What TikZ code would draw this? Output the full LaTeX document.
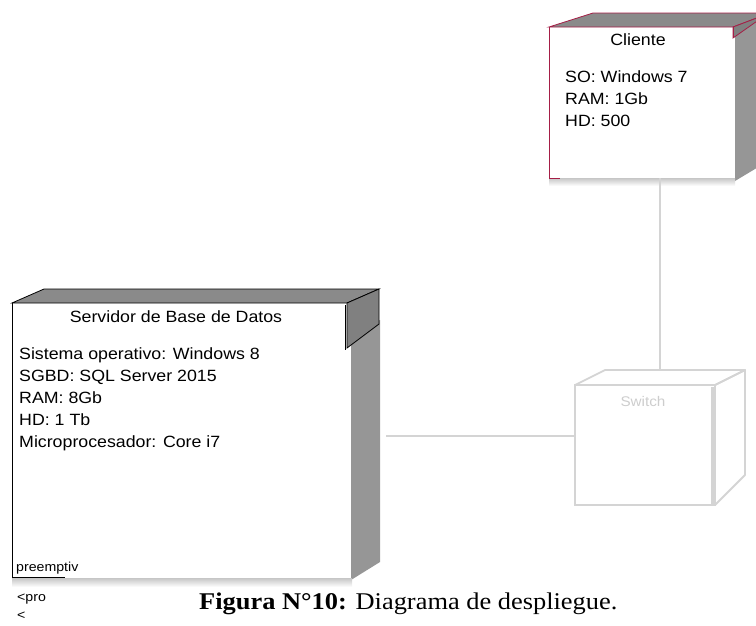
\documentclass[tikz,border=0pt]{standalone}
\usepackage{fontspec}
\setmainfont[FakeStretch=1.09]{Liberation Sans}
\newfontfamily\capfont[FakeStretch=1.10]{Liberation Serif}
\definecolor{crim}{RGB}{165,30,70}
\definecolor{topgray}{RGB}{138,138,138}
\definecolor{sidegray}{RGB}{128,128,128}
\definecolor{colgray}{RGB}{150,150,150}
\definecolor{faint}{RGB}{212,212,212}
\definecolor{fainttxt}{RGB}{205,205,205}
\begin{document}
\begin{tikzpicture}[x=1pt,y=-1pt,
  face/.style={inner sep=0pt, draw=none, rectangle},
  lbl/.style={inner sep=0pt, anchor=base west, font=\fontsize{16.3}{19}\selectfont},
  ttl/.style={inner sep=0pt, anchor=base, font=\fontsize{16.3}{19}\selectfont},
  small/.style={inner sep=0pt, anchor=base west, font=\fontsize{13}{15}\selectfont},
  link/.style={draw=faint, line width=2pt},
  botshade/.style={top color=gray!45, bottom color=white, draw=none}]
\useasboundingbox (0,0) rectangle (756,625);
\clip (0,0) rectangle (756,625);

% ---------------- Switch (faded) ----------------
\node[face, minimum width=140pt, minimum height=120pt] (sw) at (645,445) {};
\coordinate (swtop) at (660,370);
\draw[faint, line width=1.8pt, line join=round]
  (575,385) -- (605,370) -- (745,370) -- (715,385) -- cycle;
\draw[faint, line width=1.8pt, line join=round]
  (715,385) -- (745,370) -- (745,475) -- (715,505);
\draw[faint, line width=1.8pt] (575,385) rectangle (715,505);
\draw[faint, line width=3.5pt] (713,387) -- (713,504);
\node[inner sep=0pt, text=fainttxt, font=\fontsize{14}{16}\selectfont] (swl) at (643,401) {Switch};

% ---------------- Cliente ----------------
\node[face, minimum width=184pt, minimum height=152pt] (cli) at (641,102) {};
\fill[colgray] (735,30) -- (760,20) -- (760,166) -- (735,181) -- cycle;
\fill[botshade] (549,178) rectangle (735,186);
\fill[white] (549,27) rectangle (733,178);
\filldraw[fill=topgray, draw=crim, line width=0.8pt]
  (549,27) -- (593,13) -- (770,13) -- (733,27) -- cycle;
\filldraw[fill=sidegray, draw=crim, line width=0.8pt]
  (733,27) -- (770,13) -- (770,12) -- (733,38) -- cycle;
\draw[crim, line width=0.8pt] (733,27) -- (733,38);
\draw[crim, line width=0.8pt] (549,27) -- (549,178) -- (560,178);
\node[ttl] (clit) at (638,45) {Cliente};
\node[lbl] (cli1) at (565,82) {SO: Windows 7};
\node[lbl] (cli2) at (565,104) {RAM: 1Gb};
\node[lbl] (cli3) at (565,126) {HD: 500};

% ---------------- Servidor ----------------
\node[face, minimum width=336pt, minimum height=275pt] (srv) at (180,440.5) {};
\fill[colgray] (351,335) -- (380,320) -- (380,562) -- (351,580) -- cycle;
\fill[botshade] (12,578) rectangle (352,587);
\fill[white] (12,303) rectangle (347,578);
\filldraw[fill=topgray, draw=black, line width=0.8pt]
  (12,303) -- (44,289) -- (379,289) -- (347,303) -- cycle;
\filldraw[fill=sidegray, draw=black, line width=0.8pt]
  (347,303) -- (379,289) -- (379,324) -- (347,348) -- cycle;
\draw[black, line width=0.6pt] (345,305) -- (345,350);
\draw[black, line width=0.8pt] (12,303) -- (12,577) -- (65,577);
\node[ttl] (srvt) at (176,322) {Servidor de Base de Datos};
\node[lbl] (srv1) at (19,359) {Sistema operativo: Windows\hspace{5pt}8};
\node[lbl] (srv2) at (19,381) {SGBD: SQL Server 2015};
\node[lbl] (srv3) at (19,403) {RAM: 8Gb};
\node[lbl] (srv4) at (19,425) {HD: 1 Tb};
\node[lbl] (srv5) at (19,447) {Microprocesador: Core i7};
\node[small] (pre) at (16,571) {preemptiv};
\node[small] (pro) at (17,601) {<pro};
\node[small] (lt) at (17,619) {<};

% ---------------- Connectors ----------------
\coordinate (srvport) at (386,436);
\draw[link] (cli.south -| swtop) -- (swtop);
\draw[link] (srvport) -- (sw.west |- srvport);

% ---------------- Caption ----------------
\node[inner sep=0pt, anchor=base west, font=\capfont\fontsize{24}{28}\selectfont] (cap) at (199,609)
  {\textbf{Figura N°10:} Diagrama de despliegue.};
\end{tikzpicture}
\end{document}
